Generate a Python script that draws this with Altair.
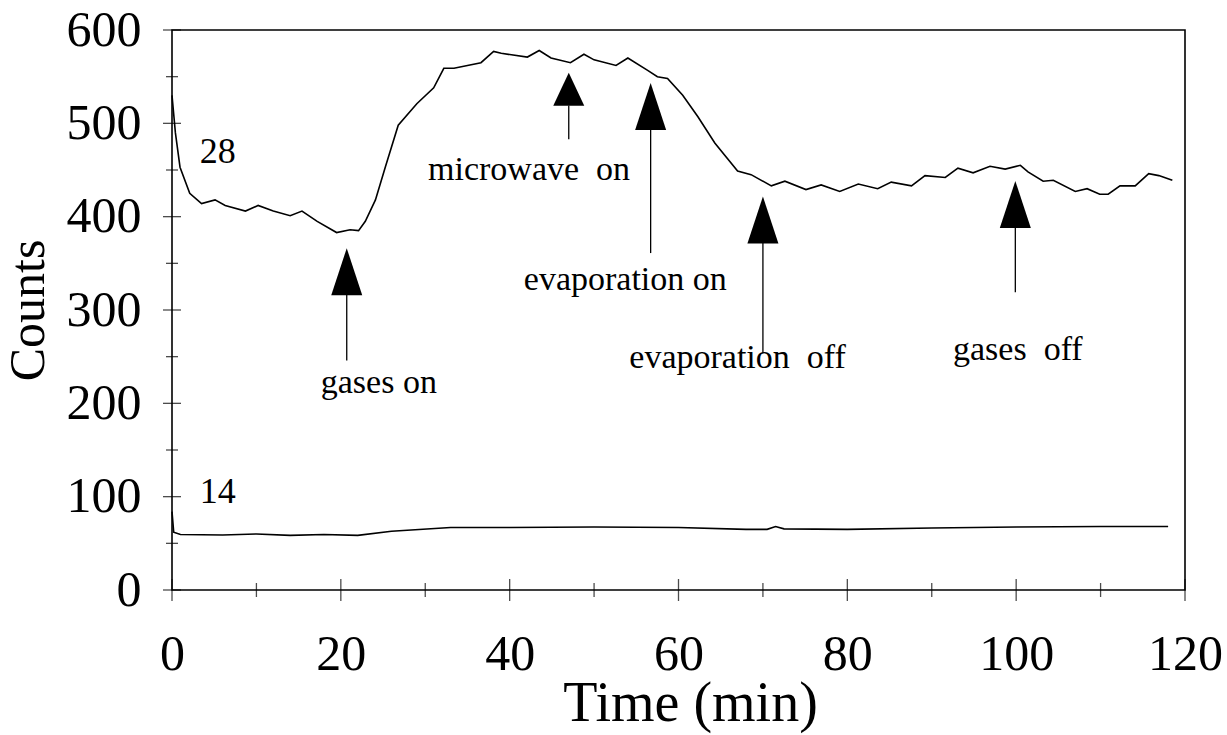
import altair as alt
import pandas as pd

# ---- data ----
t28 = [0, 0.4, 0.95, 2.1, 3.5, 5.1, 6.3, 8.7, 10.2, 12.0,
       14.0, 15.4, 17.2, 19.5, 21.1, 22.1, 22.9, 24.1, 25.3, 26.8,
       29.0, 31.0, 32.2, 33.4, 35.0, 36.6, 38.1, 39.0, 42.1, 43.5,
       44.9, 47.2, 48.8, 50.0, 52.6, 54.0, 56.3, 57.5, 58.7, 60.5,
       62.3, 64.3, 67.0, 68.6, 71.0, 72.6, 75.1, 76.9, 79.1, 81.3,
       83.6, 85.2, 87.6, 89.2, 91.6, 93.1, 94.9, 96.9, 98.7, 100.5,
       101.4, 103.2, 104.4, 107.0, 108.4, 109.9, 110.9, 112.3, 114.1, 115.7,
       116.9, 118.5]
v28 = [530, 490, 453, 425, 414, 418, 412, 406, 412, 406,
       401, 406, 395, 383, 386, 385, 395, 418, 454, 498,
       521, 538, 559, 559, 562, 565, 577, 575, 571, 578,
       570, 565, 574, 568, 562, 570, 557, 550, 548, 530,
       507, 479, 449, 445, 433, 438, 429, 434, 427, 435,
       430, 437, 433, 444, 442, 452, 447, 454, 451, 455,
       448, 438, 439, 427, 430, 424, 424, 433, 433, 446,
       444, 439]

t14 = [0, 0.2, 1, 6, 10, 14, 18, 22, 26, 33, 40, 50, 60, 68, 70.5, 71.5,
       72.5, 80, 90, 100, 110, 118]
v14 = [84, 62, 59.5, 59, 60, 58.5, 59.5, 58.5, 63, 67, 67, 67.5, 67, 65, 65,
       68, 65.5, 65, 66.5, 67.5, 68, 68]

series_names = ["28", "14"]
series_label_t = [3.3, 3.3]
series_label_v = [457, 93]

event_names = ["gases on", "microwave on", "evaporation on", "evaporation off", "gases off"]
event_text_shown = ["gases on", "microwave\u00a0 on", "evaporation on",
                    "evaporation\u00a0 off", "gases\u00a0 off"]
event_t = [20.7, 47.0, 56.7, 70.0, 99.9]
head_top = [366, 554, 543, 421, 438]
head_base = [316, 519, 493, 372, 388]
stem_end = [246, 483, 361, 254, 319]
label_t = [24.5, 42.3, 53.7, 67.0, 100.2]
label_v = [211, 439, 321, 238, 246]

x_major = [0, 20, 40, 60, 80, 100, 120]
x_minor = [10, 30, 50, 70, 90, 110]
y_major = [0, 100, 200, 300, 400, 500, 600]
y_minor = [50, 150, 250, 350, 450, 550]

# ---- tables ----
df28 = pd.DataFrame({"t": t28, "v": v28})
df14 = pd.DataFrame({"t": t14, "v": v14})
dfs = pd.DataFrame({"name": series_names, "t": series_label_t, "v": series_label_v})
dfe = pd.DataFrame({"name": event_names, "shown": event_text_shown, "t": event_t,
                    "top": head_top, "base": head_base, "end": stem_end,
                    "lt": label_t, "lv": label_v})
dfxM = pd.DataFrame({"t": x_major})
dfxm = pd.DataFrame({"t": x_minor})
dfyM = pd.DataFrame({"v": y_major})
dfym = pd.DataFrame({"v": y_minor})

FONT = "Liberation Serif"
W, H = 1013, 560

xs = alt.Scale(domain=[0, 120], nice=False, zero=False)
ys = alt.Scale(domain=[0, 600], nice=False, zero=False)

xaxis = alt.Axis(values=x_major, title="Time (min)", grid=False, domain=False,
                 ticks=False, tickSize=0, labelFont=FONT, labelFontSize=50,
                 labelColor="black", labelPadding=39, labelFlush=False,
                 titleFont=FONT, titleFontSize=56, titleFontWeight="normal",
                 titleColor="black", titleX=518, titleY=130,
                 titleBaseline="alphabetic")
yaxis = alt.Axis(values=y_major, title="Counts", grid=False, domain=False,
                 ticks=False, tickSize=0, labelFont=FONT, labelFontSize=50,
                 labelColor="black", labelPadding=31, labelFlush=False,
                 titleFont=FONT, titleFontSize=50, titleFontWeight="normal",
                 titleColor="black", titleAngle=-90, titleX=-129, titleY=280,
                 titleBaseline="alphabetic", titleAlign="center")


def X(field):
    return alt.X(field, type="quantitative", scale=xs, axis=xaxis)


def Y(field):
    return alt.Y(field, type="quantitative", scale=ys, axis=yaxis)


line28 = alt.Chart(df28).mark_line(color="black", strokeWidth=1.6).encode(x=X("t"), y=Y("v"))
line14 = alt.Chart(df14).mark_line(color="black", strokeWidth=1.6).encode(x=X("t"), y=Y("v"))

series_text = alt.Chart(dfs).mark_text(font=FONT, fontSize=36, align="left",
                                       baseline="alphabetic", color="black").encode(
    x=X("t"), y=Y("v"), text="name:N")

stems = alt.Chart(dfe).mark_rule(color="black", strokeWidth=1.3).encode(
    x=X("t"), y=Y("base"), y2="end:Q")

heads_tall = alt.Chart(dfe).transform_filter(
    alt.datum.name != "microwave on"
).transform_calculate(mid="(datum.top + datum.base) / 2").mark_point(
    shape="M0,-1L0.66,1L-0.66,1Z", size=2209, filled=True, color="black", opacity=1
).encode(x=X("t"), y=Y("mid"))

heads_short = alt.Chart(dfe).transform_filter(
    alt.datum.name == "microwave on"
).transform_calculate(mid="(datum.top + datum.base) / 2").mark_point(
    shape="M0,-1L0.94,1L-0.94,1Z", size=1089, filled=True, color="black", opacity=1
).encode(x=X("t"), y=Y("mid"))

event_text = alt.Chart(dfe).mark_text(font=FONT, fontSize=34, align="center",
                                      baseline="alphabetic", color="black").encode(
    x=X("lt"), y=Y("lv"), text="shown:N")

xtick_major = alt.Chart(dfxM).mark_tick(orient="vertical", size=22, thickness=1.3,
                                        color="black").encode(
    x=X("t"), y=alt.Y(datum=0, scale=ys, axis=yaxis))
xtick_minor = alt.Chart(dfxm).mark_tick(orient="vertical", size=14, thickness=1.3,
                                        color="black").encode(
    x=X("t"), y=alt.Y(datum=0, scale=ys, axis=yaxis))
ytick_major = alt.Chart(dfyM).mark_tick(orient="horizontal", size=18, thickness=1.3,
                                        color="black").encode(
    y=Y("v"), x=alt.X(datum=0, scale=xs, axis=xaxis))
ytick_minor = alt.Chart(dfym).mark_tick(orient="horizontal", size=12, thickness=1.3,
                                        color="black").encode(
    y=Y("v"), x=alt.X(datum=0, scale=xs, axis=xaxis))

chart = alt.layer(
    line28, line14, series_text, stems, heads_tall, heads_short, event_text,
    xtick_major, xtick_minor, ytick_major, ytick_minor
).properties(
    width=W, height=H,
    autosize=alt.AutoSizeParams(type="none"),
    padding={"left": 172, "top": 30, "right": 42, "bottom": 145},
    background="white",
).configure_view(stroke="black", strokeWidth=1.6)

chart.save("out.html", embed_options={"renderer": "svg", "actions": False})
